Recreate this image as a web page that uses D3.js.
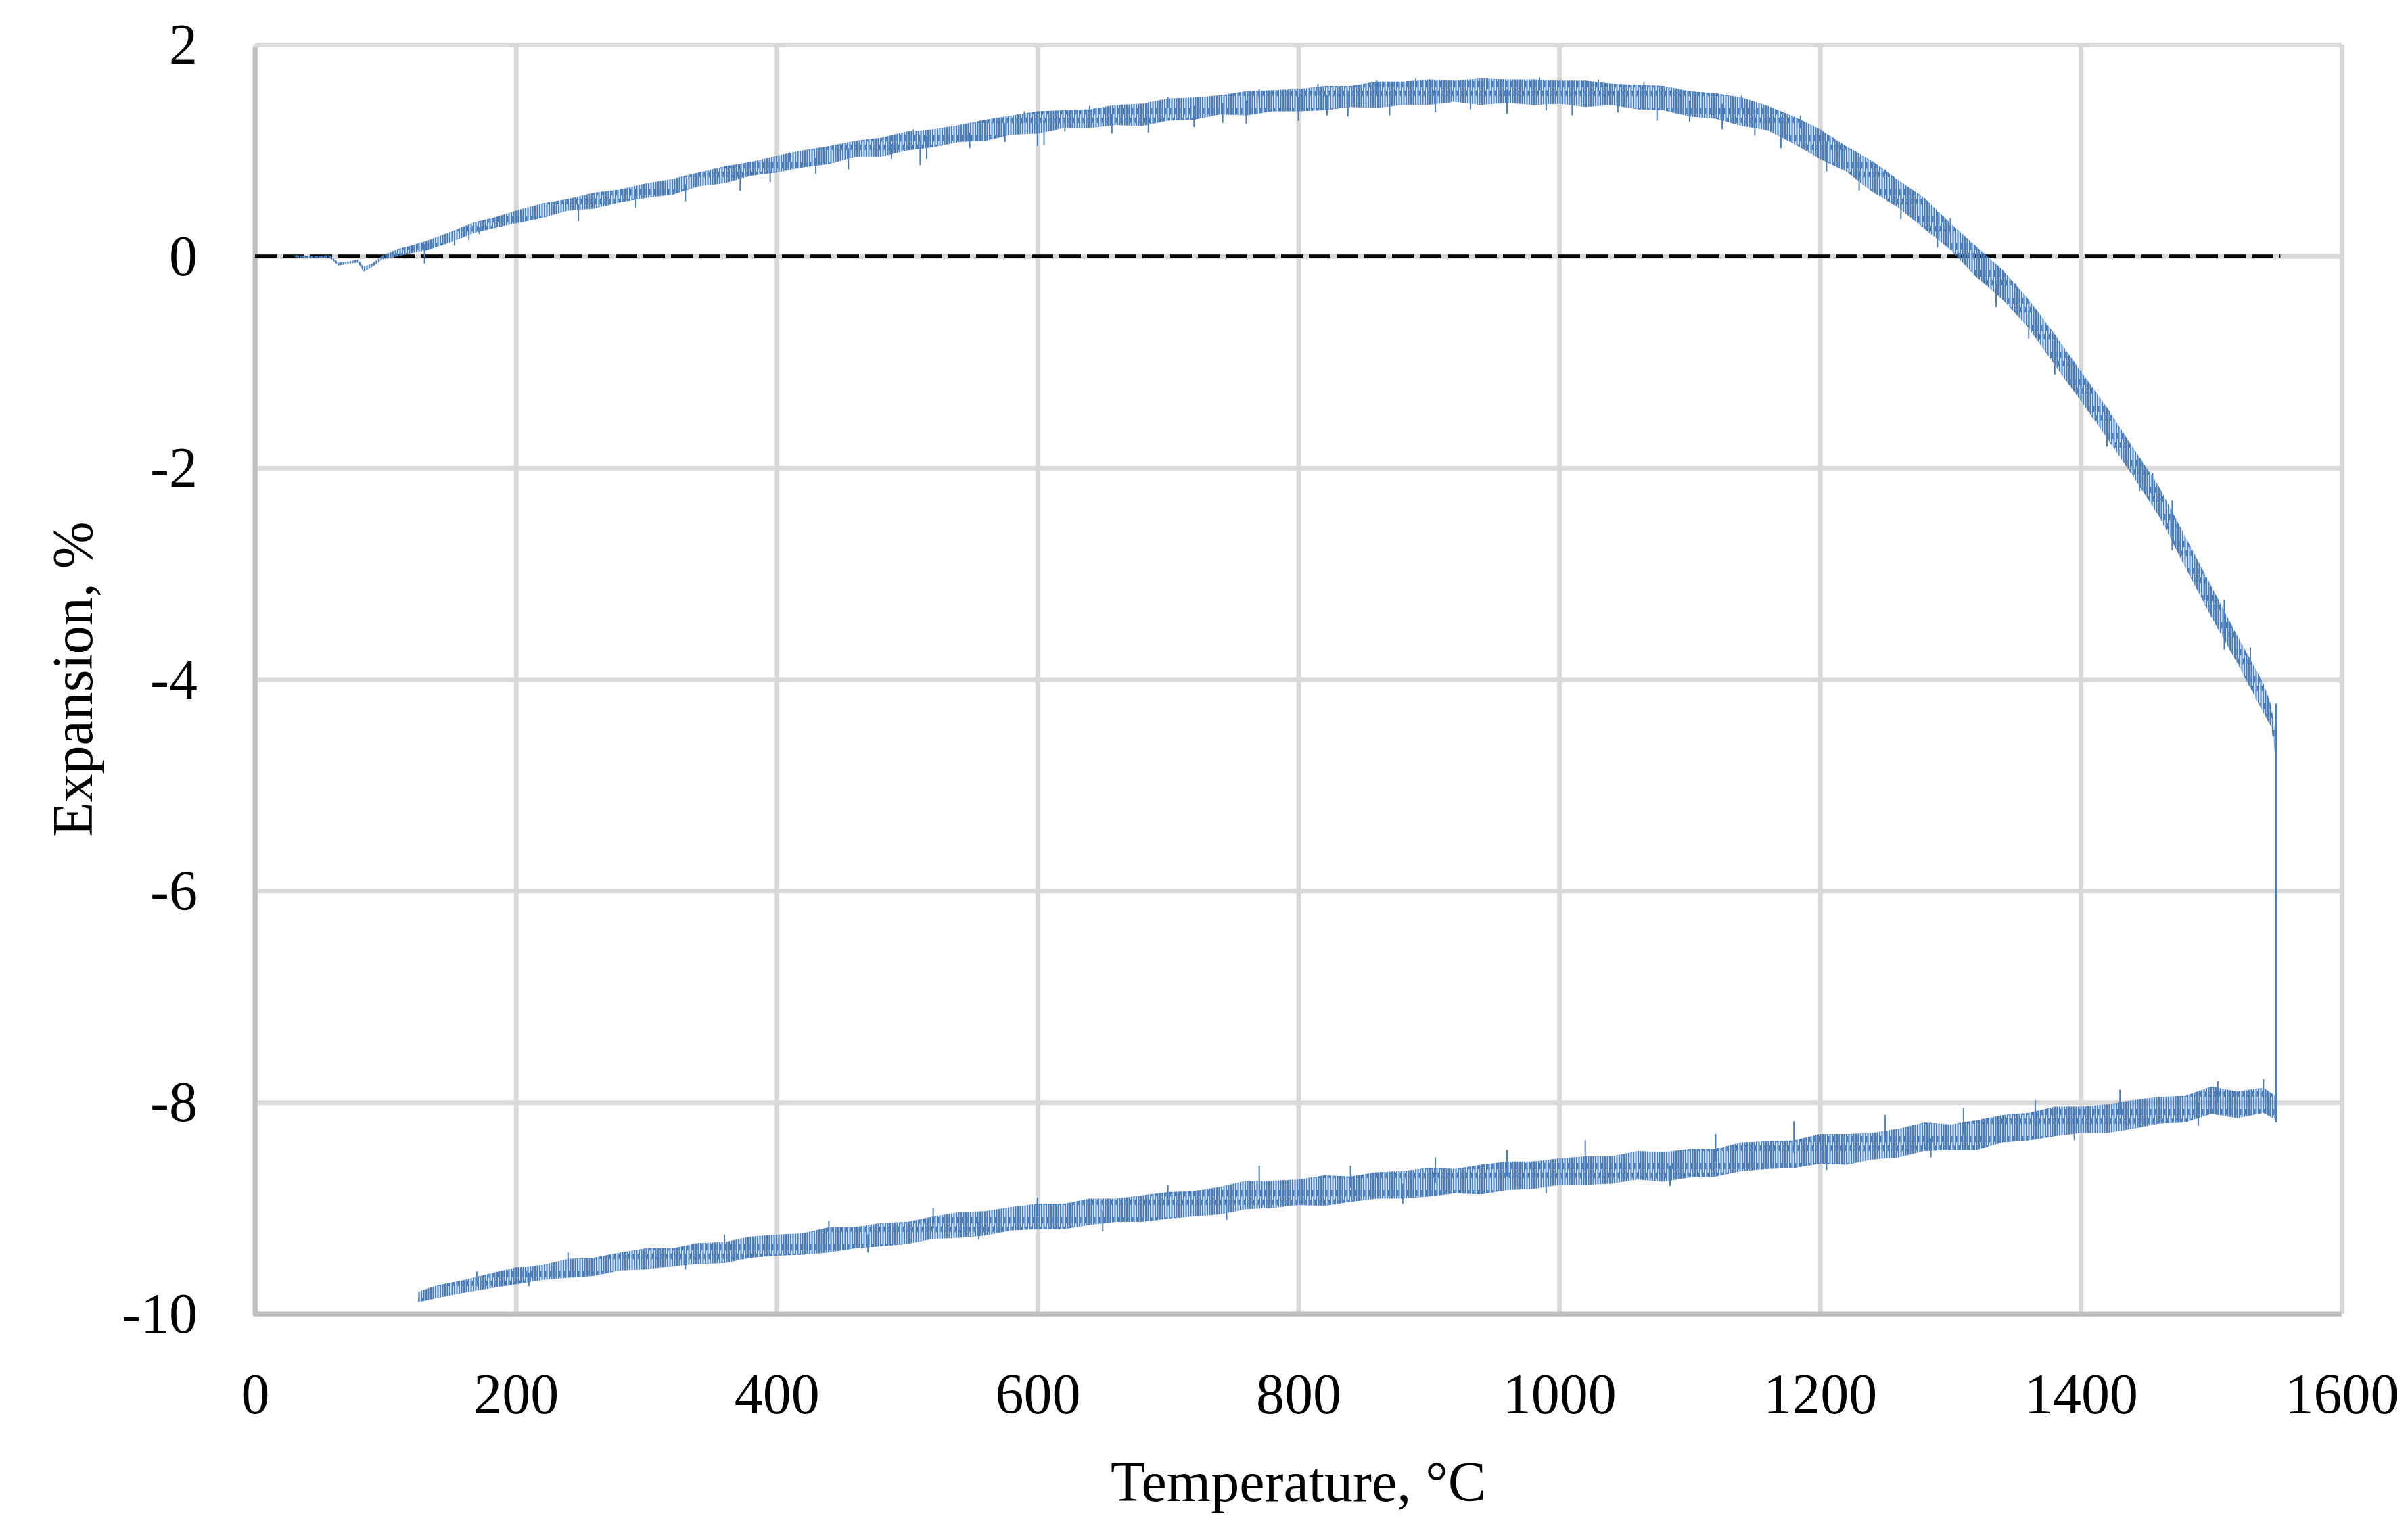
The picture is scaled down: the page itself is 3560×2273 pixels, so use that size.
<!DOCTYPE html>
<html>
<head>
<meta charset="utf-8">
<script src="https://cdn.jsdelivr.net/npm/d3@7"></script>
<style>
  body { margin: 0; background: #fff; }
  text { font-family: "Liberation Serif", "DejaVu Serif", serif; fill: #000; }
</style>
</head>
<body>
<svg id="chart" width="3560" height="2273"></svg>
<script>
/////////////////////////////////////////////////////////////////////////////////////
// Data
var xTicks = [0, 200, 400, 600, 800, 1000, 1200, 1400, 1600];
var yTicks = [-10, -8, -6, -4, -2, 0, 2];

// heating branch: temperature, mean expansion, noise above / below the mean
var heatTemp = [30,45,57,64,72,79,83,90,98,110,120,133,150,168,185,
  200,220,240,260,280,300,320,340,360,380,400,420,440,460,480,500,520,540,560,580,
  600,620,640,660,680,700,720,740,760,780,800,820,840,860,880,900,920,940,960,980,
  1000,1020,1040,1060,1080,1100,1120,1140,1160,1180,1200,1220,1240,1260,1280,1300,
  1320,1340,1360,1380,1400,1420,1440,1460,1480,1500,1520,1540,1546,1549];
var heatExp = [0.00,-0.01,0.00,-0.07,-0.06,-0.04,-0.12,-0.08,-0.01,0.04,0.07,0.11,0.19,0.27,0.33,
  0.38,0.44,0.49,0.54,0.58,0.63,0.68,0.73,0.78,0.84,0.89,0.93,0.98,1.02,1.06,1.10,1.14,1.17,1.21,1.26,
  1.29,1.31,1.33,1.35,1.37,1.40,1.42,1.45,1.47,1.49,1.50,1.52,1.53,1.55,1.56,1.57,1.58,1.58,1.58,1.57,
  1.57,1.56,1.55,1.53,1.51,1.47,1.44,1.39,1.32,1.21,1.08,0.94,0.78,0.61,0.42,0.20,
  -0.03,-0.26,-0.52,-0.86,-1.22,-1.55,-1.92,-2.31,-2.77,-3.25,-3.70,-4.18,-4.35,-4.60];
var heatUp = [0.01,0.01,0.01,0.01,0.01,0.01,0.02,0.01,0.02,0.03,0.03,0.04,0.04,0.05,0.04,
  0.05,0.06,0.05,0.06,0.05,0.06,0.05,0.06,0.07,0.05,0.06,0.07,0.06,0.07,0.06,0.08,0.06,0.07,0.08,0.07,
  0.08,0.07,0.06,0.08,0.07,0.09,0.08,0.07,0.09,0.08,0.08,0.09,0.08,0.10,0.09,0.10,0.08,0.10,0.09,0.10,
  0.09,0.10,0.08,0.09,0.10,0.09,0.10,0.11,0.10,0.11,0.12,0.10,0.12,0.11,0.13,0.11,
  0.12,0.13,0.11,0.12,0.13,0.12,0.11,0.13,0.12,0.13,0.11,0.14,0.10,0.10];
var heatDown = [0.01,0.01,0.01,0.02,0.01,0.02,0.03,0.02,0.02,0.04,0.04,0.05,0.06,0.05,0.06,
  0.07,0.08,0.06,0.09,0.07,0.08,0.10,0.07,0.09,0.08,0.10,0.09,0.11,0.08,0.12,0.10,0.11,0.09,0.12,0.11,
  0.13,0.10,0.12,0.11,0.14,0.12,0.13,0.11,0.14,0.12,0.13,0.14,0.12,0.15,0.13,0.14,0.12,0.15,0.13,0.14,
  0.13,0.15,0.12,0.14,0.13,0.15,0.14,0.16,0.13,0.15,0.16,0.14,0.17,0.15,0.16,0.14,
  0.17,0.15,0.16,0.17,0.15,0.17,0.16,0.15,0.17,0.16,0.15,0.14,0.10,0.12];
// deep downward spikes on heating
var heatSpikeTemp = [130,153,164,172,248,292,330,372,395,430,455,488,510,515,548,575,600,605,621,657,
  685,720,742,760,800,822,838,870,905,932,960,990,1010,1045,1075,1100,1125,1150,1170,1205,1230,
  1262,1290,1335,1360,1380,1420,1445,1470,1510];
var heatSpikeLow = [-0.07,0.10,0.15,0.21,0.33,0.46,0.52,0.62,0.70,0.78,0.82,0.92,0.86,0.92,1.02,1.08,1.04,1.05,1.18,1.16,
  1.17,1.22,1.26,1.25,1.28,1.33,1.32,1.33,1.36,1.39,1.35,1.38,1.33,1.36,1.28,1.27,1.20,1.14,1.02,0.80,0.62,
  0.35,0.08,-0.48,-0.78,-1.12,-1.80,-2.22,-2.78,-3.72];
// short upward spikes on heating
var heatPeakTemp = [410,505,590,640,700,770,815,860,890,945,985,1030,1065,1140,1185,1215,1250,1300,1350,1400,1455,1495,1530];
var heatPeakHigh = [0.98,1.20,1.37,1.42,1.50,1.58,1.63,1.66,1.68,1.68,1.69,1.67,1.65,1.52,1.33,1.07,0.82,0.36,-0.30,-1.08,-2.05,-3.05,-3.86];

// cooling branch
var coolTemp = [1550,1540,1520,1500,1480,1460,1440,1420,1400,1380,1360,1340,1320,1300,1280,1260,1240,1220,1200,1180,
  1160,1140,1120,1100,1080,1060,1040,1020,1000,980,960,940,920,900,880,860,840,820,800,780,
  760,740,720,700,680,660,640,620,600,580,560,540,520,500,480,460,440,420,400,380,
  360,340,320,300,280,260,240,220,200,180,160,140,125];
var coolExp = [-8.05,-8.00,-8.02,-8.00,-8.05,-8.08,-8.12,-8.14,-8.17,-8.19,-8.22,-8.26,-8.30,-8.32,-8.34,-8.38,-8.41,-8.44,-8.46,-8.48,
  -8.50,-8.53,-8.56,-8.58,-8.60,-8.61,-8.63,-8.65,-8.66,-8.68,-8.70,-8.72,-8.74,-8.76,-8.77,-8.79,-8.81,-8.83,-8.85,-8.87,
  -8.89,-8.92,-8.95,-8.98,-9.00,-9.02,-9.04,-9.06,-9.08,-9.10,-9.13,-9.16,-9.19,-9.22,-9.25,-9.28,-9.30,-9.33,-9.35,-9.38,
  -9.41,-9.43,-9.46,-9.48,-9.51,-9.55,-9.58,-9.61,-9.64,-9.69,-9.74,-9.79,-9.84];
var coolUp = [0.10,0.14,0.12,0.15,0.11,0.13,0.14,0.12,0.13,0.15,0.12,0.14,0.13,0.11,0.15,0.13,0.12,0.14,0.16,0.12,
  0.13,0.15,0.12,0.14,0.13,0.15,0.12,0.14,0.13,0.12,0.14,0.13,0.11,0.14,0.12,0.13,0.11,0.14,0.12,0.13,
  0.15,0.12,0.11,0.13,0.12,0.11,0.13,0.10,0.12,0.11,0.10,0.12,0.11,0.09,0.11,0.10,0.12,0.09,0.10,0.11,
  0.09,0.10,0.08,0.10,0.09,0.08,0.10,0.07,0.08,0.07,0.06,0.06,0.05];
var coolDown = [0.12,0.10,0.13,0.11,0.14,0.12,0.13,0.15,0.12,0.13,0.14,0.12,0.15,0.13,0.12,0.14,0.13,0.15,0.12,0.14,
  0.13,0.12,0.14,0.13,0.15,0.12,0.14,0.13,0.12,0.14,0.13,0.15,0.12,0.13,0.14,0.12,0.13,0.15,0.12,0.13,
  0.12,0.14,0.13,0.12,0.13,0.11,0.12,0.14,0.12,0.11,0.13,0.12,0.10,0.12,0.11,0.10,0.12,0.11,0.10,0.09,
  0.11,0.10,0.09,0.10,0.08,0.09,0.08,0.07,0.08,0.07,0.06,0.06,0.05];
// upward / downward spikes on cooling
var coolSpikeTemp = [1540,1505,1430,1365,1310,1250,1180,1120,1020,960,905,840,770,700,600,520,440,360,240,170];
var coolSpikeHigh = [-7.78,-7.80,-7.88,-7.98,-8.05,-8.12,-8.18,-8.30,-8.36,-8.45,-8.52,-8.60,-8.60,-8.78,-8.90,-9.00,-9.12,-9.25,-9.42,-9.60];
var coolDipTemp = [1490,1395,1285,1205,1085,990,880,745,650,555,470,330,210];
var coolDipLow = [-8.22,-8.36,-8.52,-8.64,-8.79,-8.86,-8.96,-9.11,-9.22,-9.30,-9.42,-9.58,-9.74];

// the sample drop at top temperature (heating end -> cooling start)
var dropTemp = [1549.5, 1549.5];
var dropExp = [-4.23, -8.19];

// reference line at zero
var zeroTemp = [0, 1553];
var zeroExp = [0, 0];

/////////////////////////////////////////////////////////////////////////////////////
// Margins
var svg = d3.select("#chart");
var margin = {left: 377, right: 98, top: 66, bottom: 330};
var w = 3560 - margin.left - margin.right;
var h = 2273 - margin.top - margin.bottom;
var blue = "#4a7ebb";

var xScale = d3.scaleLinear().domain([0, 1600]).range([0, w]);
var yScale = d3.scaleLinear().domain([-10, 2]).range([h, 0]);

// vertical hatching, looks like the dense jitter of the raw signal
var defs = svg.append("defs");
var pat = defs.append("pattern")
  .attr("id", "jitter")
  .attr("patternUnits", "userSpaceOnUse")
  .attr("width", 7).attr("height", 40);
pat.append("rect").attr("x", 0).attr("y", 0).attr("width", 2).attr("height", 40).attr("fill", blue);
pat.append("rect").attr("x", 3.5).attr("y", 0).attr("width", 2).attr("height", 40).attr("fill", blue);
pat.append("rect").attr("x", 2).attr("y", 14).attr("width", 1.5).attr("height", 9).attr("fill", blue);
pat.append("rect").attr("x", 5.5).attr("y", 28).attr("width", 1.5).attr("height", 8).attr("fill", blue);

var g = svg.append("g").attr("transform", "translate(" + margin.left + "," + margin.top + ")");

// gridlines
g.append("g")
  .attr("transform", "translate(0," + h + ")")
  .call(d3.axisBottom(xScale).tickValues(xTicks).tickSize(-h).tickFormat(""))
  .call(function(a) {
    a.select(".domain").remove();
    a.selectAll("line").attr("stroke", "#d9d9d9").attr("stroke-width", 7);
  });
g.append("g")
  .call(d3.axisLeft(yScale).tickValues(yTicks).tickSize(-w).tickFormat(""))
  .call(function(a) {
    a.select(".domain").remove();
    a.selectAll("line").attr("stroke", "#d9d9d9").attr("stroke-width", 7);
  });

// axis lines
g.append("line").attr("x1", xScale(0)).attr("x2", xScale(0))
  .attr("y1", yScale(2) + 4).attr("y2", yScale(-10))
  .attr("stroke", "#bfbfbf").attr("stroke-width", 7);
g.append("line").attr("x1", xScale(0) - 3).attr("x2", xScale(1600))
  .attr("y1", yScale(-10)).attr("y2", yScale(-10))
  .attr("stroke", "#bfbfbf").attr("stroke-width", 7);

// tick labels
function plain(d) { return String(d); }
g.append("g")
  .attr("transform", "translate(0," + h + ")")
  .call(d3.axisBottom(xScale).tickValues(xTicks).tickSize(0).tickPadding(0).tickFormat(plain))
  .call(function(a) {
    a.select(".domain").remove();
    a.selectAll("text").attr("y", 147).attr("dy", 0)
      .style("font-family", "Liberation Serif").style("font-size", "84px");
  });
g.append("g")
  .call(d3.axisLeft(yScale).tickValues(yTicks).tickSize(0).tickPadding(85).tickFormat(plain))
  .call(function(a) {
    a.select(".domain").remove();
    a.selectAll("text").attr("dy", "0.33em")
      .style("font-family", "Liberation Serif").style("font-size", "84px");
  });

// zero line
var line = d3.line()
  .x(function(d) { return xScale(d[0]); })
  .y(function(d) { return yScale(d[1]); });

g.append("path")
  .datum(d3.zip(zeroTemp, zeroExp))
  .attr("d", line)
  .attr("fill", "none")
  .attr("stroke", "#000")
  .attr("stroke-width", 5)
  .attr("stroke-dasharray", "32,9");

// noisy measured curve, drawn as a band around the mean
function rows(t, e, up, dn) {
  return t.map(function(v, i) { return {t: v, e: e[i], up: up[i], dn: dn[i]}; });
}
var heating = rows(heatTemp, heatExp, heatUp, heatDown);
var cooling = rows(coolTemp, coolExp, coolUp, coolDown);

var band = d3.area()
  .x(function(d) { return xScale(d.t); })
  .y0(function(d) { return yScale(d.e - d.dn); })
  .y1(function(d) { return yScale(d.e + d.up); });

[heating, cooling].forEach(function(data) {
  g.append("path")
    .datum(data)
    .attr("d", band)
    .attr("fill", blue)
    .attr("fill-opacity", 0.25)
    .attr("stroke", "none");
  g.append("path")
    .datum(data)
    .attr("d", band)
    .attr("fill", "url(#jitter)")
    .attr("stroke", "none");
});

// single spikes, from the mean curve to the read extreme
function spikes(cls, temps, ends, baseT, baseE) {
  g.selectAll("." + cls)
    .data(d3.zip(temps, ends))
    .enter()
    .append("line")
    .attr("class", cls)
    .attr("x1", function(d) { return xScale(d[0]); })
    .attr("x2", function(d) { return xScale(d[0]); })
    .attr("y1", function(d) {
      var best = 0;
      baseT.forEach(function(v, i) {
        if (Math.abs(v - d[0]) < Math.abs(baseT[best] - d[0])) best = i;
      });
      return yScale(baseE[best]);
    })
    .attr("y2", function(d) { return yScale(d[1]); })
    .attr("stroke", blue)
    .attr("stroke-width", 2);
}
spikes("heatSpike", heatSpikeTemp, heatSpikeLow, heatTemp, heatExp);
spikes("heatPeak", heatPeakTemp, heatPeakHigh, heatTemp, heatExp);
spikes("coolSpike", coolSpikeTemp, coolSpikeHigh, coolTemp, coolExp);
spikes("coolDip", coolDipTemp, coolDipLow, coolTemp, coolExp);

// drop at max temperature
g.append("path")
  .datum(d3.zip(dropTemp, dropExp))
  .attr("d", line)
  .attr("fill", "none")
  .attr("stroke", blue)
  .attr("stroke-width", 3);

// axis titles
svg.append("text")
  .attr("x", margin.left + w / 2)
  .attr("y", 2220)
  .attr("text-anchor", "middle")
  .style("font-size", "84px")
  .text("Temperature, °C");

svg.append("text")
  .attr("transform", "translate(136," + (margin.top + h / 2) + ") rotate(-90)")
  .attr("text-anchor", "middle")
  .style("font-size", "84px")
  .text("Expansion, %");
</script>
</body>
</html>
